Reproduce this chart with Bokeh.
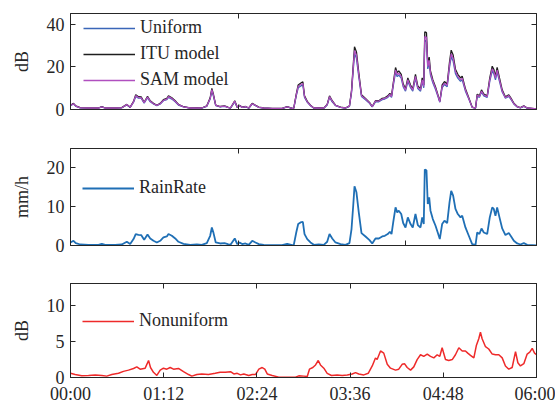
from bokeh.plotting import figure
from bokeh.models import Range1d, LinearAxis, FixedTicker, Legend, LegendItem
from bokeh.layouts import column
from bokeh.embed import file_html
from bokeh.resources import INLINE

# ---------------- data ----------------
# time in minutes since 00:00
t_rain = [0, 2.3, 4.1, 7.5, 13.9, 21.6, 24.2, 26.8, 34.5, 39.6,
          43.5, 46.1, 48.7, 50.4, 52.5, 54.6, 56.9, 59.5, 61.6, 64.1,
          66.7, 69.3, 71.8, 74.4, 75.7, 78.3, 80.9, 83.4, 87.3, 92.5,
          97.6, 101.4, 105.3, 107.9, 109.2, 110.5, 112.2, 115.6, 119.0, 121.5,
          123.6, 126.9, 128.8, 130.6, 132.6, 135.2, 137.7, 140.4, 142.9, 145.5,
          149.3, 155.8, 163.5, 167.4, 171.3, 172.5, 174.4, 175.9, 177.7, 179.5,
          180.8, 182.9, 185.4, 188.0, 191.8, 195.7, 198.3, 200.1, 202.2, 204.7,
          208.6, 212.4, 215.5, 217.1, 218.4, 219.4, 220.9, 222.7, 224.8, 227.9,
          231.0, 233.1, 235.6, 238.2, 240.8, 242.8, 245.1, 246.7, 248.0, 249.3,
          251.1, 252.4, 253.6, 255.5, 257.0, 258.8, 260.6, 262.7, 264.4, 266.5,
          268.3, 270.4, 271.7, 272.9, 273.7, 275.0, 276.0, 277.1, 278.1, 279.9,
          282.0, 283.7, 285.3, 287.1, 288.9, 291.0, 292.8, 294.1, 295.6, 297.4,
          299.2, 301.3, 302.6, 305.1, 307.7, 310.3, 312.9, 314.2, 315.9, 317.5,
          319.3, 321.9, 323.9, 325.8, 327.0, 328.3, 329.6, 331.4, 333.5, 336.0,
          338.6, 340.4, 342.5, 345.1, 347.6, 350.2, 352.8, 356.7, 360]

rain_rate = [0.78, 1.21, 0.62, 0.26, 0.18, 0.18, 0.44, 0.18, 0.18, 0.26,
             0.96, 0.36, 1.65, 2.95, 2.76, 2.69, 1.47, 2.84, 1.81, 1.21,
             0.78, 1.21, 2.07, 2.33, 2.95, 2.51, 1.81, 0.96, 0.44, 0.18,
             0.26, 0.18, 0.62, 2.51, 4.65, 3.2, 0.78, 0.52, 0.62, 0.36,
             0.18, 1.81, 0.36, 0.78, 0.36, 0.52, 0.18, 1.21, 0.78, 0.36,
             0.18, 0.1, 0.1, 0.44, 0.1, 0.18, 3.36, 5.53, 5.94, 6.12,
             2.95, 1.65, 0.78, 0.18, 0.26, 0.18, 0.96, 2.95, 1.81, 0.78,
             0.36, 0.18, 0.62, 4.24, 10.26, 15.25, 13.7, 8.53, 3.2, 2.33,
             1.4, 0.52, 1.81, 1.81, 2.33, 2.51, 2.95, 3.54, 2.95, 5.94,
             9.82, 8.53, 8.97, 8.11, 5.79, 4.65, 7.24, 5.53, 4.65, 8.11,
             5.27, 4.65, 7.24, 5.53, 19.6, 19.4, 10.7, 12.4, 8.97, 6.82,
             5.09, 3.36, 1.65, 5.53, 6.38, 5.79, 11.1, 14.1, 12.84, 9.41,
             8.11, 7.24, 7.67, 4.65, 2.51, 0.36, 0.18, 3.36, 2.95, 4.39,
             3.36, 2.95, 7.24, 9.82, 9.41, 7.67, 9.82, 7.24, 4.39, 2.69,
             3.2, 2.33, 1.21, 0.52, 0.26, 0.62, 0.18, 0.1, 0.0]

att_itu = [2.0, 2.9, 1.7, 0.9, 0.7, 0.7, 1.3, 0.7, 0.7, 0.9,
           2.4, 1.1, 3.8, 6.9, 6.0, 5.9, 3.4, 6.2, 4.1, 2.9,
           2.0, 2.9, 4.6, 5.2, 6.4, 5.5, 4.1, 2.4, 1.3, 0.7,
           0.9, 0.7, 1.7, 5.5, 9.9, 6.9, 2.0, 1.4, 1.7, 1.1,
           0.7, 4.1, 1.1, 2.0, 1.1, 1.4, 0.7, 2.9, 2.0, 1.1,
           0.7, 0.5, 0.5, 1.3, 0.5, 0.7, 7.2, 11.5, 12.3, 13.0,
           6.4, 3.8, 2.0, 0.7, 0.9, 0.7, 2.4, 6.4, 4.1, 2.0,
           1.1, 0.7, 1.7, 8.9, 20.6, 29.4, 27.0, 17.3, 6.9, 5.2,
           3.3, 1.4, 4.1, 4.1, 5.2, 5.5, 6.4, 7.6, 6.4, 12.3,
           19.7, 17.3, 18.1, 16.5, 12.0, 9.7, 14.8, 11.5, 9.7, 16.5,
           11.0, 9.7, 14.8, 11.5, 36.4, 36.0, 21.4, 24.6, 18.1, 14.0,
           10.6, 7.2, 3.8, 11.5, 13.1, 12.0, 22.2, 27.8, 25.5, 18.9,
           16.5, 14.8, 15.6, 9.7, 5.5, 1.1, 0.7, 7.2, 6.4, 9.2,
           7.2, 6.4, 14.8, 20.3, 18.9, 15.6, 19.7, 14.8, 9.2, 5.9,
           6.9, 5.2, 2.9, 1.4, 0.9, 1.7, 0.7, 0.5, 0.3]

att_uniform = [1.8, 2.6, 1.5, 0.8, 0.6, 0.6, 1.2, 0.6, 0.6, 0.8,
               2.1, 1.0, 3.4, 6.1, 5.3, 5.3, 3.0, 5.5, 3.6, 2.6,
               1.8, 2.6, 4.1, 4.6, 5.7, 4.9, 3.6, 2.1, 1.2, 0.6,
               0.8, 0.6, 1.5, 4.9, 8.8, 6.1, 1.8, 1.2, 1.5, 1.0,
               0.6, 3.6, 1.0, 1.8, 1.0, 1.2, 0.6, 2.6, 1.8, 1.0,
               0.6, 0.4, 0.4, 1.2, 0.4, 0.6, 6.4, 10.2, 10.9, 11.6,
               5.7, 3.4, 1.8, 0.6, 0.8, 0.6, 2.1, 5.7, 3.6, 1.8,
               1.0, 0.6, 1.5, 7.9, 18.3, 26.2, 24.0, 15.4, 6.1, 4.6,
               2.9, 1.2, 3.6, 3.6, 4.6, 4.9, 5.7, 6.8, 5.7, 10.9,
               17.5, 15.4, 16.1, 14.7, 10.7, 8.6, 13.2, 10.2, 8.6, 14.7,
               9.8, 8.6, 13.2, 10.2, 32.4, 32.0, 19.0, 21.9, 16.1, 12.5,
               9.4, 6.4, 3.4, 10.2, 11.7, 10.7, 19.8, 24.7, 22.7, 16.8,
               14.7, 13.2, 13.9, 8.6, 4.9, 1.0, 0.6, 6.4, 5.7, 8.2,
               6.4, 5.7, 13.2, 18.1, 16.8, 13.9, 17.5, 13.2, 8.2, 5.3,
               6.1, 4.6, 2.6, 1.2, 0.8, 1.5, 0.6, 0.4, 0.3]

att_sam = [1.9, 2.7, 1.6, 0.8, 0.7, 0.7, 1.2, 0.7, 0.7, 0.8,
           2.3, 1.0, 3.6, 6.5, 5.6, 5.5, 3.2, 5.8, 3.9, 2.7,
           1.9, 2.7, 4.3, 4.9, 6.0, 5.2, 3.9, 2.3, 1.2, 0.7,
           0.8, 0.7, 1.6, 5.2, 9.3, 6.5, 1.9, 1.3, 1.6, 1.0,
           0.7, 3.9, 1.0, 1.9, 1.0, 1.3, 0.7, 2.7, 1.9, 1.0,
           0.7, 0.5, 0.5, 1.2, 0.5, 0.7, 6.8, 10.8, 11.6, 12.2,
           6.0, 3.6, 1.9, 0.7, 0.8, 0.7, 2.3, 6.0, 3.9, 1.9,
           1.0, 0.7, 1.6, 8.4, 19.4, 27.6, 25.4, 16.3, 6.5, 4.9,
           3.1, 1.3, 3.9, 3.9, 4.9, 5.2, 6.0, 7.1, 6.0, 11.6,
           18.5, 16.3, 17.0, 15.5, 11.3, 9.1, 13.9, 10.8, 9.1, 15.5,
           10.3, 9.1, 13.9, 10.8, 34.2, 33.8, 20.1, 23.1, 17.0, 13.2,
           10.0, 6.8, 3.6, 10.8, 12.3, 11.3, 20.9, 26.1, 24.0, 17.8,
           15.5, 13.9, 14.7, 9.1, 5.2, 1.0, 0.7, 6.8, 6.0, 8.6,
           6.8, 6.0, 13.9, 19.1, 17.8, 14.7, 18.5, 13.9, 8.6, 5.5,
           6.5, 4.9, 2.7, 1.3, 0.8, 1.6, 0.7, 0.5, 0.3]

t_nonuni = [0, 3.6, 8.7, 13.9, 19.1, 24.2, 28.0, 31.9, 37.1, 40.9,
            44.8, 48.7, 51.2, 53.8, 57.7, 60.3, 61.8, 64.1, 66.7, 69.3,
            71.8, 74.4, 77.0, 79.6, 83.4, 87.3, 91.2, 93.7, 97.6, 101.4,
            106.6, 111.8, 115.6, 119.7, 123.6, 126.2, 128.8, 131.3, 133.9, 137.7,
            140.4, 142.9, 145.5, 148.1, 150.1, 152.0, 155.8, 160.9, 168.6, 173.8,
            176.4, 180.2, 182.9, 184.6, 187.2, 189.3, 191.4, 193.1, 195.7, 198.3,
            201.6, 206.0, 209.9, 213.8, 217.6, 220.2, 222.7, 226.6, 230.0, 233.1,
            235.6, 236.9, 239.5, 242.0, 244.7, 247.2, 251.1, 253.6, 256.2, 258.0,
            260.1, 262.7, 265.2, 267.8, 270.4, 272.9, 275.6, 278.1, 280.7, 283.3,
            285.3, 287.1, 289.7, 292.2, 294.9, 297.4, 300.0, 302.6, 305.1, 306.9,
            309.0, 311.6, 313.6, 315.4, 316.7, 318.0, 320.6, 323.1, 325.8, 328.3,
            330.9, 333.5, 336.0, 338.6, 341.2, 343.8, 345.6, 347.6, 350.2, 352.8,
            354.8, 356.7, 358.5, 360]

att_nonuni = [0.58, 0.41, 0.23, 0.28, 0.36, 0.28, 0.19, 0.41, 0.58, 0.85,
              1.02, 1.25, 1.47, 1.15, 1.29, 2.35, 1.38, 0.72, 0.28, 1.02,
              1.29, 1.15, 1.38, 1.15, 1.25, 0.81, 0.41, 0.19, 0.41, 0.49,
              0.41, 0.58, 0.72, 0.72, 0.81, 0.49, 0.58, 0.36, 0.49, 0.28,
              0.41, 0.41, 1.15, 1.38, 1.15, 0.49, 0.28, 0.05, 0.05, 0.05,
              0.23, 0.19, 0.15, 1.15, 1.38, 1.74, 2.35, 1.74, 1.29, 0.58,
              0.28, 0.36, 0.28, 0.36, 0.49, 0.68, 0.49, 0.36, 0.58, 1.6,
              2.7, 2.48, 3.67, 3.37, 1.82, 1.29, 1.02, 1.15, 1.82, 1.91,
              1.38, 1.02, 1.47, 2.48, 3.14, 2.93, 3.24, 2.93, 2.71, 3.14,
              2.93, 4.12, 2.48, 2.35, 2.48, 3.14, 4.12, 3.67, 3.67, 3.37,
              3.06, 2.71, 4.47, 5.36, 6.25, 5.36, 4.26, 3.94, 3.24, 3.14,
              3.14, 2.71, 1.6, 1.15, 1.38, 3.59, 2.04, 1.6, 1.91, 3.24,
              3.5, 4.03, 3.37, 3.14]

# tick definitions
time_ticks = [0, 72, 144, 216, 288, 360]
time_labels = ["00:00", "01:12", "02:24", "03:36", "04:48", "06:00"]
n_samples = 1390
sample_ticks = [500, 1000]
y1_ticks = [0, 20, 40]
y2_ticks = [0, 10, 20]
y3_ticks = [0, 5, 10]

# ---------------- styling ----------------
FONT = "Liberation Serif"
TXT = "#262626"
FS = "18px"
W = 555
LEFT = 70
FRAME_W = 466


def style_axis(ax, ticks, labels=None, show=True):
    ax.ticker = FixedTicker(ticks=ticks)
    ax.minor_tick_line_color = None
    ax.major_tick_in = 5
    ax.major_tick_out = 0
    ax.major_tick_line_color = TXT
    ax.major_tick_line_width = 1
    ax.axis_line_color = TXT
    ax.axis_line_width = 1
    ax.major_label_text_font = FONT
    if show:
        ax.major_label_text_color = TXT
        ax.major_label_text_font_size = FS
        ax.major_label_standoff = 6
        if labels is not None:
            ax.major_label_overrides = labels
    else:
        ax.major_label_text_color = None
        ax.major_label_text_alpha = 0
        ax.major_label_text_font_size = "1px"
        ax.major_label_standoff = 0


def make_fig(height, top, bottom, ymax, yticks, xticks, ylabel, xlabels=None):
    p = figure(width=W, height=height, x_range=Range1d(0, 360), y_range=Range1d(0, ymax),
               output_backend="svg", toolbar_location=None,
               min_border_left=LEFT, min_border_right=W - LEFT - FRAME_W,
               min_border_top=top, min_border_bottom=bottom)
    p.xgrid.visible = False
    p.ygrid.visible = False
    p.outline_line_color = TXT
    p.outline_line_width = 1
    p.background_fill_color = "white"
    p.border_fill_color = "white"
    style_axis(p.xaxis[0], xticks, xlabels, show=xlabels is not None)
    style_axis(p.yaxis[0], yticks, None, show=True)
    p.yaxis[0].axis_label = ylabel
    p.yaxis[0].axis_label_text_font = FONT
    p.yaxis[0].axis_label_text_font_size = FS
    p.yaxis[0].axis_label_text_font_style = "normal"
    p.yaxis[0].axis_label_text_color = TXT
    p.yaxis[0].axis_label_standoff = 12
    ra = LinearAxis()
    style_axis(ra, yticks, show=False)
    p.add_layout(ra, "right")
    ta = LinearAxis()
    style_axis(ta, xticks, show=False)
    p.add_layout(ta, "above")
    return p


def style_legend(lg):
    lg.label_text_font = FONT
    lg.label_text_font_size = FS
    lg.label_text_color = TXT
    lg.glyph_width = 52
    lg.glyph_height = 20
    lg.label_height = 20
    lg.label_standoff = 5
    lg.spacing = 5
    lg.padding = 0
    lg.margin = 0
    lg.border_line_alpha = 0
    lg.background_fill_alpha = 0


top_ticks = [s * 360 / n_samples for s in sample_ticks]
time_label_map = {t: l for t, l in zip(time_ticks, time_labels)}

# panel 1: attenuation models
p1 = make_fig(128, 13, 19, 45, y1_ticks, top_ticks, "dB")
r_u = p1.line(t_rain, att_uniform, line_color="#3a66b8", line_width=1.3)
r_i = p1.line(t_rain, att_itu, line_color="#1e1e1e", line_width=1.3)
r_s = p1.line(t_rain, att_sam, line_color="#b04fbf", line_width=1.3)
lg1 = Legend(items=[LegendItem(label="Uniform", renderers=[r_u]),
                    LegendItem(label="ITU model", renderers=[r_i]),
                    LegendItem(label="SAM model", renderers=[r_s])],
             location=(13, 19))
style_legend(lg1)
p1.add_layout(lg1)

# panel 2: rain rate
p2 = make_fig(136, 20, 19, 25, y2_ticks, top_ticks, "mm/h")
r_r = p2.line(t_rain, rain_rate, line_color="#1f6fb5", line_width=1.8)
lg2 = Legend(items=[LegendItem(label="RainRate", renderers=[r_r])], location=(12, 47))
style_legend(lg2)
p2.add_layout(lg2)

# panel 3: nonuniform attenuation
p3 = make_fig(142, 19, 26, 13, y3_ticks, time_ticks, "dB", xlabels=time_label_map)
r_n = p3.line(t_nonuni, att_nonuni, line_color="#ee2a2a", line_width=1.5)
lg3 = Legend(items=[LegendItem(label="Nonuniform", renderers=[r_n])], location=(12, 46))
style_legend(lg3)
p3.add_layout(lg3)

layout = column(p1, p2, p3, spacing=0)
open("out.html", "w").write(file_html(layout, INLINE))
